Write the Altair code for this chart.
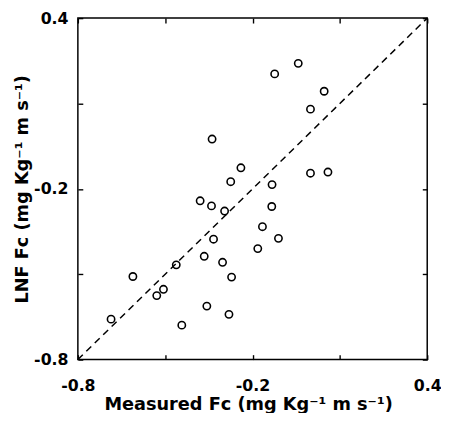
import altair as alt
import pandas as pd

measured = [-0.124, -0.043, 0.046, -0.001, -0.339, -0.240, -0.275, -0.133, -0.001, 0.059,
            -0.380, -0.341, -0.296, -0.134, -0.166, -0.111, -0.182, -0.334, -0.366, -0.303,
            -0.272, -0.462, -0.611, -0.506, -0.529, -0.357, -0.281, -0.443, -0.686]
lnf = [0.204, 0.241, 0.143, 0.080, -0.025, -0.126, -0.175, -0.185, -0.145, -0.141,
       -0.242, -0.260, -0.278, -0.262, -0.333, -0.374, -0.410, -0.377, -0.437, -0.458,
       -0.510, -0.467, -0.508, -0.553, -0.575, -0.612, -0.641, -0.679, -0.658]
tick_values = [-0.8, -0.5, -0.2, 0.1, 0.4]
one_to_one = [-0.8, 0.4]

x_title = "Measured Fc (mg Kg⁻¹ m s⁻¹)"
y_title = "LNF Fc (mg Kg⁻¹ m s⁻¹)"

W, H = 355, 347

df = pd.DataFrame({"measured": measured, "lnf": lnf})
ld = pd.DataFrame({"measured": one_to_one, "lnf": one_to_one})

FONT = "DejaVu Sans"
LAB = ("datum.value == -0.8 || datum.value == -0.2 || datum.value == 0.4 "
       "? replace(datum.label, '\u2212', '-') : ''")

xs = alt.Scale(domain=[-0.8, 0.4], nice=False, zero=False)
ys = alt.Scale(domain=[-0.8, 0.4], nice=False, zero=False)


def label_axis(orient, title, label_pad, title_pad, **extra):
    return alt.Axis(orient=orient, values=tick_values, title=title, format=".1f",
                    labelExpr=LAB, ticks=False, domain=False, grid=False,
                    labelFlush=False, labelOverlap=False,
                    labelFont=FONT, labelFontWeight="bold", labelFontSize=16,
                    labelColor="black", labelPadding=label_pad,
                    titleFont=FONT, titleFontWeight="bold", titleFontSize=18,
                    titleColor="black", titlePadding=title_pad, **extra)


def tick_axis(orient, off):
    # inward-pointing ticks: an axis of the opposite side moved across the plot
    return alt.Axis(orient=orient, values=tick_values, title=None, labels=False,
                    ticks=True, tickSize=5, tickColor="black", tickWidth=1.4,
                    domain=False, grid=False, offset=off)


line = alt.Chart(ld).mark_line(color="black", strokeDash=[7, 5], strokeWidth=1.5).encode(
    x=alt.X("measured:Q", scale=xs, axis=label_axis("bottom", x_title, 18, 3, titleX=173)),
    y=alt.Y("lnf:Q", scale=ys, axis=label_axis("left", y_title, 10, 2)),
)

pts = alt.Chart(df).mark_point(shape="circle", filled=False, color="black",
                               strokeWidth=1.6, size=55, opacity=1).encode(
    x=alt.X("measured:Q", scale=xs, axis=tick_axis("top", -H)),
    y=alt.Y("lnf:Q", scale=ys, axis=tick_axis("right", -W)),
)

ghost = alt.Chart(ld).mark_point(opacity=0).encode(
    x=alt.X("measured:Q", scale=xs, axis=tick_axis("bottom", -H)),
    y=alt.Y("lnf:Q", scale=ys, axis=tick_axis("left", -W)),
)

chart = alt.layer(line, pts, ghost).resolve_axis(
    x="independent", y="independent"
).properties(
    width=W, height=H,
    padding={"left": 71, "top": 7, "right": 14, "bottom": 51},
    autosize=alt.AutoSizeParams(type="none"),
).configure_view(stroke="black", strokeWidth=1.5)

chart.save("out.html", embed_options={"renderer": "svg", "actions": False})
